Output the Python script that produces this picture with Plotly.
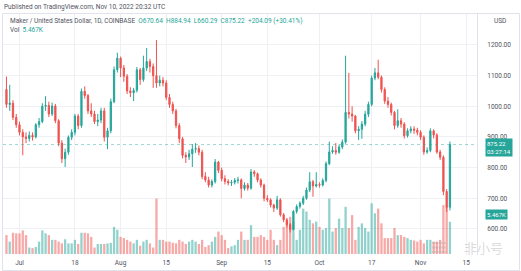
import plotly.graph_objects as go
import pandas as pd

# ---------------- data ----------------
start_date = "2022-06-27"
first_open = 1055
close = [1006, 1010, 964, 940, 915, 900, 895, 905, 900, 940,
         950, 1000, 1003, 975, 1001, 953, 880, 829, 850, 899,
         915, 968, 937, 1049, 1035, 985, 975, 950, 955, 985,
         899, 920, 1015, 1119, 1157, 1125, 1098, 1050, 1044, 1052,
         1119, 1087, 1125, 1146, 1130, 1100, 1076, 1085, 1076, 1029,
         1006, 985, 937, 894, 840, 835, 845, 860, 862, 850,
         771, 760, 743, 755, 818, 791, 764, 755, 750, 752,
         758, 760, 732, 743, 733, 786, 780, 760, 743, 700,
         695, 678, 668, 695, 646, 630, 614, 598, 657, 673,
         684, 700, 727, 754, 740, 745, 743, 758, 813, 851,
         856, 850, 867, 883, 980, 975, 968, 920, 925, 942,
         974, 1006, 1092, 1109, 1095, 1055, 1017, 1006, 980, 937,
         953, 942, 904, 920, 926, 922, 915, 899, 851, 856,
         920, 906, 851, 834, 722, 670.64, 875.22]
high = [1097, 1070, 1020, 975, 950, 925, 915, 918, 915, 945,
        962, 1010, 1033, 1015, 1012, 1008, 958, 890, 862, 905,
        925, 975, 975, 1058, 1065, 1040, 1010, 985, 975, 995,
        995, 930, 1025, 1130, 1175, 1162, 1135, 1105, 1062, 1060,
        1128, 1125, 1165, 1190, 1155, 1140, 1216, 1100, 1095, 1085,
        1040, 1015, 992, 945, 900, 850, 858, 877, 880, 872,
        858, 785, 770, 762, 828, 822, 800, 775, 762, 760,
        766, 770, 765, 752, 750, 795, 792, 784, 765, 748,
        710, 700, 682, 708, 700, 652, 636, 620, 662, 680,
        690, 708, 735, 785, 760, 785, 752, 765, 820, 885,
        870, 880, 875, 892, 1165, 1109, 1000, 972, 935, 952,
        985, 1015, 1100, 1125, 1152, 1100, 1062, 1030, 1012, 985,
        990, 962, 948, 928, 935, 935, 930, 922, 905, 866,
        928, 925, 912, 858, 840, 730, 884.94]
low = [995, 985, 955, 930, 905, 840, 880, 885, 888, 895,
       930, 945, 985, 965, 968, 945, 870, 815, 802, 842,
       890, 905, 925, 930, 1025, 975, 965, 942, 935, 945,
       885, 860, 912, 1010, 1110, 1095, 1080, 1040, 1030, 1017,
       1045, 1070, 1080, 1115, 1110, 1060, 1060, 1065, 1065, 1020,
       995, 975, 928, 880, 830, 815, 825, 802, 848, 840,
       762, 752, 735, 735, 748, 782, 755, 745, 742, 740,
       745, 748, 700, 725, 725, 728, 770, 752, 735, 690,
       688, 670, 655, 662, 640, 622, 605, 588, 595, 650,
       666, 678, 695, 720, 705, 735, 735, 738, 752, 808,
       845, 842, 845, 860, 878, 960, 950, 912, 890, 894,
       935, 965, 1000, 1085, 1088, 1045, 1008, 995, 970, 925,
       930, 930, 895, 898, 912, 910, 905, 890, 842, 845,
       850, 895, 845, 825, 710, 655, 660.29]
volume_k = [3.2, 2.1, 3.6, 3.5, 3.5, 4.0, 3.2, 1.1, 1.0, 1.2,
            2.1, 4.0, 3.5, 3.2, 2.4, 2.4, 2.1, 1.8, 2.5, 1.8,
            1.8, 2.4, 1.7, 3.6, 3.6, 3.5, 2.9, 1.1, 1.7, 1.7,
            1.7, 1.8, 1.9, 4.6, 4.1, 2.9, 2.7, 2.4, 2.1, 1.8,
            2.4, 1.4, 2.1, 2.4, 1.8, 1.1, 9.4, 2.4, 2.4, 2.1,
            2.1, 1.9, 1.8, 2.4, 2.1, 1.7, 2.1, 2.4, 2.1, 1.7,
            2.4, 1.2, 1.5, 2.1, 2.9, 3.8, 3.2, 2.4, 1.0, 1.3,
            1.5, 2.4, 3.8, 2.4, 2.4, 4.9, 2.9, 2.9, 3.2, 2.9,
            2.4, 4.1, 2.4, 1.5, 2.4, 4.6, 5.5, 6.3, 5.5, 2.4,
            4.1, 7.7, 7.2, 5.8, 5.2, 5.5, 4.6, 4.1, 4.4, 9.4,
            3.8, 4.4, 6.0, 4.4, 8.0, 4.4, 6.6, 2.4, 4.6, 5.2,
            4.4, 3.8, 8.6, 6.9, 7.7, 5.2, 2.7, 2.7, 2.7, 4.4,
            3.2, 3.2, 2.9, 2.7, 2.4, 2.3, 2.1, 2.4, 1.8, 2.4,
            2.4, 2.1, 2.1, 2.4, 8.3, 8.0, 5.467]

price_ticks = [600, 700, 800, 900, 1000, 1100, 1200]
price_tick_text = ["600.00", "700.00", "800.00", "900.00", "1000.00", "1100.00", "1200.00"]
date_ticks = ["2022-07-01", "2022-07-18", "2022-08-01", "2022-08-15", "2022-09-01",
              "2022-09-15", "2022-10-01", "2022-10-17", "2022-11-01", "2022-11-15"]
date_tick_text = ["Jul", "18", "Aug", "15", "Sep", "15", "Oct", "17", "Nov", "15"]

last_price = 875.22
last_volume_text = "5.467K"

# ---------------- layout constants ----------------
W, H = 521, 271
ML, MR, MT, MB = 3, 44, 14, 16
PW, PH = W - ML - MR, H - MT - MB
UP, DN = "#26a69a", "#ef5350"
UP_V, DN_V = "rgba(38,166,154,0.5)", "rgba(239,83,80,0.5)"
TXT = "#50535e"
GRID = "#eef0f4"
FONT = "Roboto, Open Sans, sans-serif"


def px(x):
    return (x - ML) / PW


def py(y):
    return 1 - (y - MT) / PH


dates = pd.date_range(start_date, periods=len(close), freq="D")
opens = [first_open] + close[:-1]
vol_colors = [UP_V if c >= o else DN_V for o, c in zip(opens, close)]

jul1 = pd.Timestamp("2022-07-01")
x0 = jul1 + pd.Timedelta(days=-5.06)
x1 = jul1 + pd.Timedelta(days=140.3)

fig = go.Figure()
fig.add_trace(go.Bar(x=dates, y=volume_k, marker=dict(color=vol_colors, line=dict(width=0)),
                     yaxis="y", showlegend=False, hoverinfo="skip"))
fig.add_trace(go.Candlestick(
    x=dates, open=opens, high=high, low=low, close=close,
    increasing=dict(line=dict(color=UP, width=1), fillcolor=UP),
    decreasing=dict(line=dict(color=DN, width=1), fillcolor=DN),
    whiskerwidth=0, yaxis="y2", showlegend=False))

fig.update_layout(
    width=W, height=H,
    margin=dict(l=ML, r=MR, t=MT, b=MB),
    paper_bgcolor="white", plot_bgcolor="white",
    bargap=0.3, boxgap=0.45,
    font=dict(family=FONT, size=7, color=TXT),
    xaxis=dict(type="date", range=[x0, x1], rangeslider=dict(visible=False),
               tickvals=date_ticks, ticktext=date_tick_text,
               showgrid=True, gridcolor=GRID, gridwidth=1,
               zeroline=False, showline=False, ticks="",
               tickfont=dict(size=6.5, color=TXT), ticklabelstandoff=2),
    yaxis=dict(range=[-0.17, 40.7], visible=False, showgrid=False, zeroline=False),
    yaxis2=dict(overlaying="y", side="right", range=[515, 1301],
                tickvals=price_ticks, ticktext=price_tick_text,
                showgrid=True, gridcolor=GRID, gridwidth=1, zeroline=False,
                showline=True, linecolor="#e0e3eb", linewidth=1, ticks="",
                tickfont=dict(size=6.5, color=TXT), ticklabelstandoff=8),
)

shapes = [
    # outer frame of the chart pane
    dict(type="rect", xref="paper", yref="paper", x0=px(2.5), x1=px(519.5), y0=py(13.5), y1=py(270.5),
         line=dict(color="#e0e3eb", width=1), layer="below"),
    # last price line
    dict(type="line", xref="paper", yref="y2", x0=0, x1=1, y0=last_price, y1=last_price,
         line=dict(color="rgba(38,166,154,0.45)", width=1, dash="dot")),
]
# watermark logo (three short bars)
for yy in (243, 247.5, 252):
    shapes.append(dict(type="line", xref="paper", yref="paper", x0=px(432), x1=px(446),
                       y0=py(yy), y1=py(yy), line=dict(color="rgba(170,170,170,0.35)", width=2)))
fig.update_layout(shapes=shapes)

ann = [
    dict(x=px(2), y=py(6.5), text="Published on TradingView.com, Nov 10, 2022 20:32 UTC",
         font=dict(size=6.5, color=TXT)),
    dict(x=px(8), y=py(20.5),
         text="Maker / United States Dollar, 1D, COINBASE  "
              "<span style='color:#26a69a'>O670.64  H884.94  L660.29  C875.22  +204.09 (+30.41%)</span>",
         font=dict(size=6.5, color=TXT)),
    dict(x=px(8), y=py(30.5), text="Vol  <span style='color:#26a69a'>5.467K</span>",
         font=dict(size=6.5, color=TXT)),
    dict(x=px(492), y=py(20.5), text="USD", font=dict(size=6.5, color=TXT)),
    dict(x=px(462), y=py(247), text="非小号",
         font=dict(size=13, color="rgba(160,160,160,0.4)", family="Noto Sans CJK SC")),
]
for a in ann:
    a.update(xref="paper", yref="paper", xanchor="left", yanchor="middle", showarrow=False)
fig.update_layout(annotations=ann)

fig.add_annotation(x=px(484.5), xref="paper", y=last_price, yref="y2", yshift=-3,
                   xanchor="left", yanchor="middle", showarrow=False, align="left",
                   text="875.22<br>03:27:14", bgcolor=UP, borderpad=1,
                   font=dict(size=6, color="white"))
fig.add_annotation(x=px(484.5), xref="paper", y=py(214), yref="paper",
                   xanchor="left", yanchor="middle", showarrow=False,
                   text=last_volume_text, bgcolor=UP, borderpad=1,
                   font=dict(size=6, color="white"))

fig.write_html("out.html")
